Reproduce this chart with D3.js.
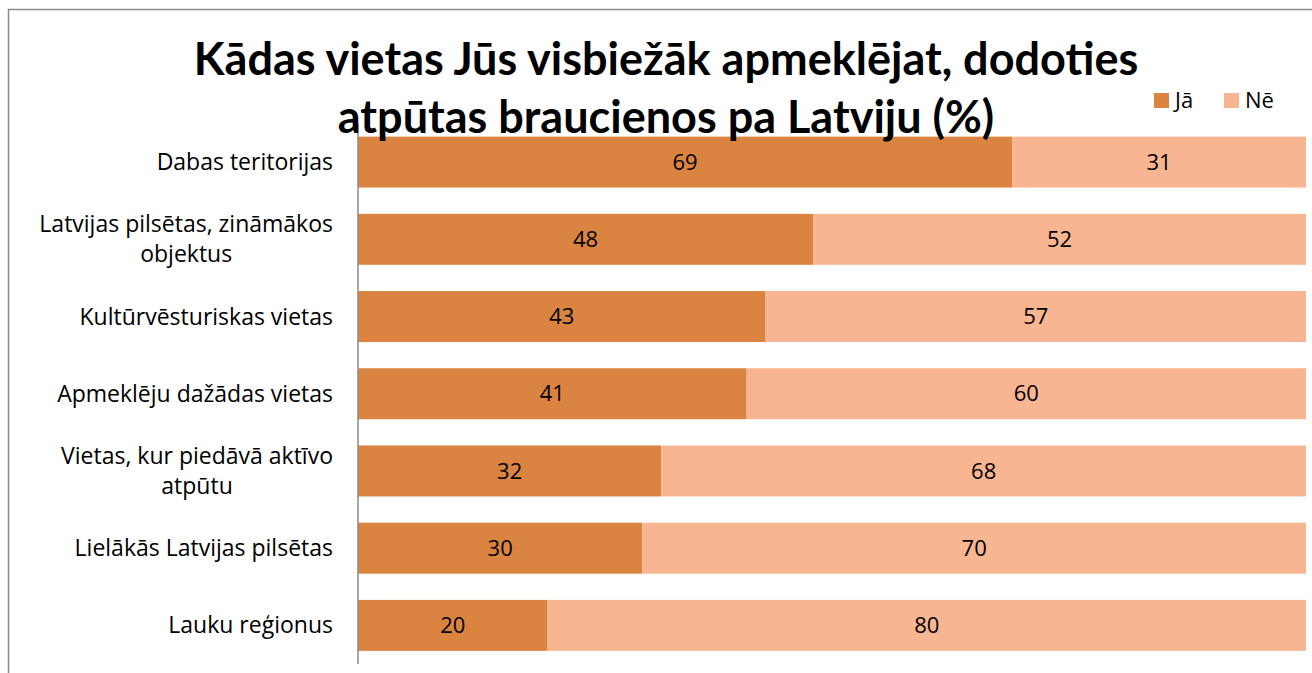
<!DOCTYPE html>
<html>
<head>
<meta charset="UTF-8">
<style type='text/css'>
  body { margin: 0; background: #fff; }
  svg { display: block; font-family: 'Open Sans', Lato, sans-serif; }
  .val, .leg { font-size: 22px; fill: #000; }
  .cat { font-size: 23px; fill: #000; }
  .title { font-family: Lato, 'Open Sans', sans-serif; font-size: 45px; font-weight: bold; fill: #000; }
</style>
</head>
<body>
<svg></svg>
<script src="https://d3js.org/d3.v7.min.js"></script>
<script>

let width = 1312, height = 673;

// data
const categories = ["Dabas teritorijas", "Latvijas pilsētas, zināmākos objektus",
  "Kultūrvēsturiskas vietas", "Apmeklēju dažādas vietas",
  "Vietas, kur piedāvā aktīvo atpūtu", "Lielākās Latvijas pilsētas", "Lauku reģionus"];
const seriesNames = ["Jā", "Nē"];
const yes = [69, 48, 43, 41, 32, 30, 20];
const no = [31, 52, 57, 60, 68, 70, 80];
const colors = ["#DB8441", "#F8B592"];
const titleLines = ["Kādas vietas Jūs visbiežāk apmeklējat, dodoties",
  "atpūtas braucienos pa Latviju (%)"];

let svg = d3.select("svg")
  .attr("width", width)
  .attr("height", height);

// chart area border (cut off at right/bottom like the screenshot)
svg.append("rect")
  .attr("x", 8.5).attr("y", 9.5)
  .attr("width", width).attr("height", height)
  .attr("fill", "none")
  .attr("stroke", "#8a8a8a")
  .attr("stroke-width", 1.5);

let plot = {left: 358, right: 1306, top: 123.5, bottom: 664};

let x = d3.scaleLinear().domain([0, 100]).range([plot.left, plot.right]).clamp(true);
let y = d3.scaleBand().domain(categories).range([plot.top, plot.bottom])
  .paddingInner(0.34).paddingOuter(0.17);

let rows = categories.map((c, i) => ({cat: c, "Jā": yes[i], "Nē": no[i]}));
let stacked = d3.stack().keys(seriesNames)(rows);

let layers = svg.append("g").selectAll("g")
  .data(stacked)
  .enter().append("g")
  .attr("fill", (d, i) => colors[i]);

layers.selectAll("rect")
  .data(d => d)
  .enter().append("rect")
  .attr("x", d => x(d[0]))
  .attr("y", d => y(d.data.cat))
  .attr("width", d => x(d[1]) - x(d[0]))
  .attr("height", y.bandwidth());

layers.selectAll("text")
  .data((d) => d.map(v => ({v: v, key: d.key})))
  .enter().append("text")
  .attr("class", "val")
  .attr("x", d => (x(d.v[0]) + x(d.v[1])) / 2)
  .attr("y", d => y(d.v.data.cat) + y.bandwidth() / 2)
  .attr("dy", "0.35em")
  .attr("text-anchor", "middle")
  .text(d => d.v.data[d.key]);

// vertical axis line
svg.append("line")
  .attr("x1", plot.left).attr("x2", plot.left)
  .attr("y1", plot.top).attr("y2", plot.bottom)
  .attr("stroke", "#8a8a8a")
  .attr("stroke-width", 1.5);

// category labels, wrapped like excel does
let maxLabel = 320, labelRight = 333, lineH = 30;
categories.forEach(c => {
  let g = svg.append("g");
  let words = c.split(" "), lines = [], cur = "";
  let probe = g.append("text").attr("class", "cat");
  words.forEach(w => {
    let t = cur ? cur + " " + w : w;
    probe.text(t);
    if (probe.node().getComputedTextLength() > maxLabel && cur) {
      lines.push(cur);
      cur = w;
    } else cur = t;
  });
  lines.push(cur);
  probe.remove();
  let txt = g.append("text").attr("class", "cat").attr("text-anchor", "middle");
  let spans = lines.map((l, i) => txt.append("tspan").text(l));
  let w = d3.max(spans, s => s.node().getComputedTextLength());
  let cy = y(c) + y.bandwidth() / 2 - (lines.length - 1) * lineH / 2;
  spans.forEach((s, i) => s.attr("x", labelRight - w / 2).attr("y", cy + i * lineH).attr("dy", "0.35em"));
});

// legend
let leg = svg.append("g").selectAll("g")
  .data(seriesNames)
  .enter().append("g")
  .attr("transform", (d, i) => "translate(" + (1154 + i * 70) + ",93)");
leg.append("rect").attr("width", 15).attr("height", 15).attr("fill", (d, i) => colors[i]);
leg.append("text").attr("class", "leg").attr("x", 21).attr("y", 7.5).attr("dy", "0.35em").text(d => d);

// title, drawn over the bars
svg.append("g").selectAll("text")
  .data(titleLines)
  .enter().append("text")
  .attr("class", "title")
  .attr("x", 666)
  .attr("y", (d, i) => 75 + i * 58)
  .attr("text-anchor", "middle")
  .text(d => d);

</script>
</body>
</html>
